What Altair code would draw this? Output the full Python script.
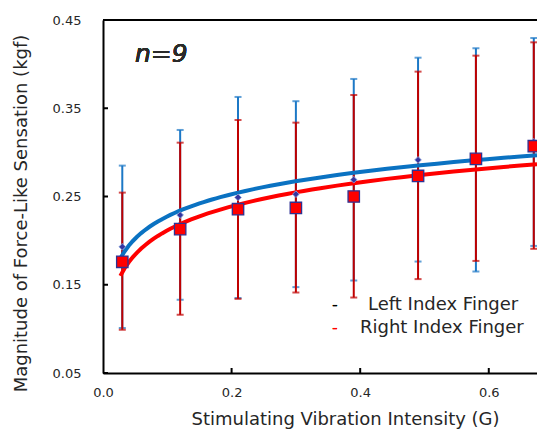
import altair as alt
import pandas as pd

# ---- data ----
x_vals = [0.03, 0.12, 0.21, 0.30, 0.39, 0.49, 0.58, 0.67]
left_mean = [0.193, 0.229, 0.249, 0.2526, 0.269, 0.2915, 0.293, 0.312]
left_hi = [0.285, 0.3254, 0.3628, 0.358, 0.3832, 0.4073, 0.418, 0.4296]
left_lo = [0.101, 0.133, 0.135, 0.1473, 0.1548, 0.1763, 0.165, 0.194]
right_mean = [0.176, 0.213, 0.2356, 0.237, 0.250, 0.2733, 0.2926, 0.307]
right_hi = [0.2544, 0.311, 0.3367, 0.3337, 0.365, 0.3915, 0.4096, 0.4247]
right_lo = [0.099, 0.116, 0.134, 0.1412, 0.1355, 0.1564, 0.177, 0.1907]

y_ticks = [0.05, 0.15, 0.25, 0.35, 0.45]
x_ticks = [0.0, 0.2, 0.4, 0.6]

left = pd.DataFrame({"x": x_vals, "mean": left_mean, "lo": left_lo, "hi": left_hi})
right = pd.DataFrame({"x": x_vals, "mean": right_mean, "lo": right_lo, "hi": right_hi})

W, H = 434, 353
FONT = "DejaVu Sans"
BLUE_BAR = "#1c78c6"
BLUE_LINE = "#0a72c2"
RED_BAR = "#c00000"
RED_LINE = "#ff0000"
TXT = "#262626"

xs = alt.Scale(domain=[0, 0.675], nice=False, zero=False)
ys = alt.Scale(domain=[0.05, 0.45], nice=False, zero=False)

X = alt.X("x:Q", scale=xs, axis=alt.Axis(
    values=x_ticks, format=".1f", title="Stimulating Vibration Intensity (G)",
    ticks=False, labelPadding=13, labelFlush=False, grid=False,
    domainColor="black", domainWidth=2,
    labelFontSize=13, labelColor=TXT, labelFont=FONT,
    titleFont=FONT, titleFontSize=18, titleFontWeight="normal", titleColor=TXT,
    titleX=242, titleY=46, titleBaseline="middle", titleAnchor="middle"))
Y = alt.Y("mean:Q", scale=ys, axis=alt.Axis(
    values=y_ticks, format=".2f", title="Magnitude of Force-Like Sensation (kgf)",
    ticks=False, labelPadding=22, labelFlush=False, grid=False,
    domainColor="black", domainWidth=2,
    labelFontSize=13, labelColor=TXT, labelFont=FONT,
    titleFont=FONT, titleFontSize=18, titleFontWeight="normal", titleColor=TXT,
    titleX=-82, titleY=193, titleAngle=-90, titleBaseline="middle", titleAnchor="middle"))


def bars(df, color):
    base = alt.Chart(df)
    r = base.mark_rule(color=color, strokeWidth=2).encode(
        x=alt.X("x:Q", scale=xs), y=alt.Y("lo:Q", scale=ys), y2="hi:Q")
    c1 = base.mark_tick(color=color, orient="horizontal", size=7, thickness=2).encode(
        x=alt.X("x:Q", scale=xs), y=alt.Y("hi:Q", scale=ys))
    c2 = base.mark_tick(color=color, orient="horizontal", size=7, thickness=2).encode(
        x=alt.X("x:Q", scale=xs), y=alt.Y("lo:Q", scale=ys))
    return r + c1 + c2


def curve(df, color):
    return alt.Chart(df).transform_regression(
        "x", "mean", method="log", extent=[0.027, 0.675]
    ).mark_line(color=color, strokeWidth=4, clip=True).encode(
        x=alt.X("x:Q", scale=xs), y=alt.Y("mean:Q", scale=ys))


axes = alt.Chart(left).mark_point(opacity=0).encode(x=X, y=Y)

top_border = alt.Chart(left).mark_rule(color="black", strokeWidth=2).encode(
    x=alt.value(0), x2=alt.value(W), y=alt.value(0))

ytick_df = pd.DataFrame({"v": y_ticks})
xtick_df = pd.DataFrame({"v": x_ticks[1:]})
yticks = alt.Chart(ytick_df).mark_rule(color="black", strokeWidth=2).encode(
    y=alt.Y("v:Q", scale=ys), x=alt.value(0), x2=alt.value(5))
xticks = alt.Chart(xtick_df).mark_rule(color="black", strokeWidth=2).encode(
    x=alt.X("v:Q", scale=xs), y=alt.value(H), y2=alt.value(H - 5))

diamonds = alt.Chart(left).mark_point(
    shape="diamond", filled=True, color="#3535a0", size=45, opacity=1,
    stroke="#8fa9e0", strokeWidth=0.8).encode(
    x=alt.X("x:Q", scale=xs), y=alt.Y("mean:Q", scale=ys))
squares = alt.Chart(right).mark_point(
    shape="square", filled=True, fill=RED_LINE, size=130, opacity=1,
    stroke="#2e3192", strokeWidth=1.3).encode(
    x=alt.X("x:Q", scale=xs), y=alt.Y("mean:Q", scale=ys))

n_text = alt.Chart(left).mark_text(
    text="n=9", font=FONT, fontSize=25, fontStyle="italic", fontWeight="normal",
    align="left", baseline="middle", color="#2a2a2a").encode(
    x=alt.value(32), y=alt.value(34))

leg_labels = ["Left Index Finger", "Right Index Finger"]
leg = pd.DataFrame({"label": leg_labels})
leg_dash1 = alt.Chart(leg).mark_text(text="-", font=FONT, fontSize=16, color="black",
                                     align="center", baseline="middle").encode(
    x=alt.value(232), y=alt.value(285))
leg_dash2 = alt.Chart(leg).mark_text(text="-", font=FONT, fontSize=16, color=RED_LINE,
                                     align="center", baseline="middle").encode(
    x=alt.value(232), y=alt.value(308))
leg_t1 = alt.Chart(leg).transform_filter(alt.datum.label == leg_labels[0]).mark_text(
    font=FONT, fontSize=18, color=TXT, align="left", baseline="middle").encode(
    text="label:N", x=alt.value(265), y=alt.value(285))
leg_t2 = alt.Chart(leg).transform_filter(alt.datum.label == leg_labels[1]).mark_text(
    font=FONT, fontSize=18, color=TXT, align="left", baseline="middle").encode(
    text="label:N", x=alt.value(257), y=alt.value(308))

chart = alt.layer(
    axes, bars(left, BLUE_BAR), bars(right, RED_BAR),
    curve(left, BLUE_LINE), curve(right, RED_LINE),
    diamonds, squares, yticks, xticks, top_border,
    n_text, leg_dash1, leg_dash2, leg_t1, leg_t2
).properties(
    width=W, height=H,
    padding={"left": 95, "top": 12, "right": 0, "bottom": 56},
    autosize=alt.AutoSizeParams(type="none"),
).configure_view(stroke=None)

chart.save("out.html", embed_options={"renderer": "svg", "actions": False})
